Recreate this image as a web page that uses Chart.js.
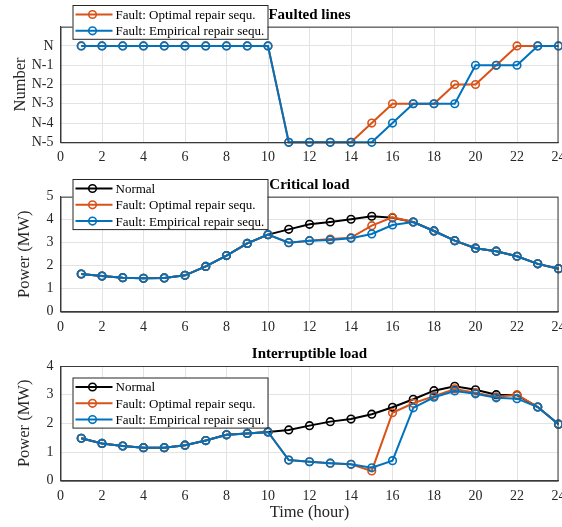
<!DOCTYPE html>
<html>
<head>
<meta charset="utf-8">
<script src="https://cdn.jsdelivr.net/npm/chart.js@4.4.1/dist/chart.umd.min.js"></script>
<style>
  body { margin: 0; background: #fff; overflow: hidden; }
  #wrap { position: relative; width: 562px; height: 527px; overflow: hidden; }
  canvas { position: absolute; left: 0; }
</style>
</head>
<body>
<div id="wrap">
  <canvas id="faulted-chart" width="600" height="170" style="top:0px"></canvas>
  <canvas id="critical-chart" width="600" height="170" style="top:170px"></canvas>
  <canvas id="inter-chart" width="600" height="187" style="top:340px"></canvas>
</div>
<script>
const hours = [1, 2, 3, 4, 5, 6, 7, 8, 9, 10, 11, 12, 13, 14, 15, 16, 17, 18, 19, 20, 21, 22, 23, 24];

// faulted lines: 0 = N, -1 = N-1 ...
const faultOptimal = [0, 0, 0, 0, 0, 0, 0, 0, 0, 0, -5, -5, -5, -5, -4, -3, -3, -3, -2, -2, -1, 0, 0, 0];
const faultEmpirical = [0, 0, 0, 0, 0, 0, 0, 0, 0, 0, -5, -5, -5, -5, -5, -4, -3, -3, -3, -1, -1, -1, 0, 0];

const criticalNormal = [1.64, 1.55, 1.48, 1.45, 1.47, 1.58, 1.97, 2.44, 2.97, 3.35, 3.58, 3.80, 3.90, 4.02, 4.15, 4.08, 3.90, 3.51, 3.09, 2.76, 2.63, 2.41, 2.08, 1.87];
const criticalOptimal = [1.64, 1.55, 1.48, 1.45, 1.47, 1.58, 1.97, 2.44, 2.97, 3.35, 3.00, 3.09, 3.16, 3.22, 3.74, 4.10, 3.90, 3.51, 3.09, 2.76, 2.63, 2.41, 2.08, 1.87];
const criticalEmpirical = [1.64, 1.55, 1.48, 1.45, 1.47, 1.58, 1.97, 2.44, 2.97, 3.35, 3.00, 3.09, 3.12, 3.19, 3.38, 3.77, 3.90, 3.51, 3.09, 2.76, 2.63, 2.41, 2.08, 1.87];

const interNormal = [1.48, 1.30, 1.21, 1.15, 1.15, 1.24, 1.40, 1.60, 1.65, 1.70, 1.77, 1.92, 2.06, 2.15, 2.32, 2.56, 2.84, 3.14, 3.29, 3.17, 3.00, 2.98, 2.57, 1.97];
const interOptimal = [1.48, 1.30, 1.21, 1.15, 1.15, 1.24, 1.40, 1.60, 1.65, 1.70, 0.72, 0.66, 0.61, 0.57, 0.34, 2.37, 2.70, 2.95, 3.20, 3.07, 2.92, 3.00, 2.57, 1.97];
const interEmpirical = [1.48, 1.30, 1.21, 1.15, 1.15, 1.24, 1.40, 1.60, 1.65, 1.70, 0.72, 0.66, 0.61, 0.57, 0.45, 0.70, 2.54, 2.91, 3.13, 3.03, 2.89, 2.86, 2.57, 1.97];

const xTicks = [0, 2, 4, 6, 8, 10, 12, 14, 16, 18, 20, 22, 24];

const colNormal = '#000000';
const colOptimal = '#D95319';
const colEmpirical = '#0072BD';
const axisColor = '#3a3a3a';
const gridColor = '#e3e3e3';

Chart.defaults.font.family = "'Liberation Serif', 'Times New Roman', serif";
Chart.defaults.color = '#262626';

function series(label, values, color, order) {
  return {
    label: label,
    data: hours.map((h, i) => ({x: h, y: values[i]})),
    borderColor: color,
    backgroundColor: color,
    borderWidth: 2,
    pointRadius: 3.8,
    pointBorderWidth: 1.6,
    pointBackgroundColor: 'rgba(255,255,255,0)',
    pointBorderColor: color,
    tension: 0,
    clip: 8,
    order: order
  };
}

// title, frame and legend box drawn like the matlab figure
const decor = {
  id: 'decor',
  afterDraw(chart, args, opts) {
    const ctx = chart.ctx;
    const a = chart.chartArea;
    ctx.save();
    ctx.strokeStyle = axisColor;
    ctx.lineWidth = 1;
    ctx.strokeRect(a.left + 0.5, a.top + 0.5, a.right - a.left - 1, a.bottom - a.top);

    ctx.fillStyle = '#000';
    ctx.font = "bold 15px 'Liberation Serif'";
    ctx.textAlign = 'center';
    ctx.textBaseline = 'middle';
    ctx.fillText(opts.title, (a.left + a.right) / 2, a.top - 11.5);

    const sets = chart.data.datasets;
    const rowH = 16.3;
    const left = 72.5, width = 195;
    const top = opts.legendTop;
    const height = 9 + rowH * (sets.length - 1) + 8.5;
    ctx.fillStyle = '#fff';
    ctx.fillRect(left, top, width, height);
    ctx.strokeStyle = '#262626';
    ctx.strokeRect(left + 0.5, top + 0.5, width, height);
    ctx.font = "13px 'Liberation Serif'";
    ctx.textAlign = 'left';
    sets.forEach((ds, i) => {
      const y = top + 9.5 + i * rowH;
      ctx.strokeStyle = ds.borderColor;
      ctx.lineWidth = 2;
      ctx.beginPath();
      ctx.moveTo(left + 3, y);
      ctx.lineTo(left + 40, y);
      ctx.stroke();
      ctx.lineWidth = 1.6;
      ctx.beginPath();
      ctx.arc(left + 20, y, 3.8, 0, Math.PI * 2);
      ctx.stroke();
      ctx.fillStyle = '#000';
      ctx.fillText(ds.label, left + 43, y + 1);
    });
    ctx.restore();
  }
};

function makeOptions(cfg) {
  return {
    responsive: false,
    animation: false,
    devicePixelRatio: 1,
    layout: {padding: {left: 0, right: 41.5, top: cfg.top, bottom: 0}},
    plugins: {
      legend: {display: false},
      tooltip: {enabled: false},
      decor: {title: cfg.title, legendTop: cfg.legendTop}
    },
    scales: {
      x: {
        type: 'linear',
        min: 0,
        max: 24,
        afterBuildTicks: (s) => { s.ticks = xTicks.map(v => ({value: v})); },
        ticks: {font: {size: 14}, padding: 7, maxRotation: 0, autoSkip: false},
        grid: {color: gridColor, drawTicks: false},
        border: {color: axisColor},
        title: {display: !!cfg.xTitle, text: cfg.xTitle, font: {size: 16.5}, padding: {top: 7}},
        afterFit: (s) => { s.height = cfg.xHeight; }
      },
      y: {
        min: cfg.yMin,
        max: cfg.yMax,
        ticks: {stepSize: 1, font: {size: 14}, padding: 7, autoSkip: false, callback: cfg.yLabel},
        grid: {color: gridColor, drawTicks: false},
        border: {color: axisColor},
        title: {display: true, text: cfg.yTitle, font: {size: 16.5}, padding: {top: cfg.yTitlePad, bottom: 0}},
        afterFit: (s) => { s.width = 60.5; }
      }
    }
  };
}

new Chart(document.getElementById('faulted-chart'), {
  type: 'line',
  data: {
    datasets: [
      series('Fault: Optimal repair sequ.', faultOptimal, colOptimal, 1),
      series('Fault: Empirical repair sequ.', faultEmpirical, colEmpirical, 0)
    ]
  },
  options: makeOptions({
    title: 'Faulted lines', legendTop: 5, top: 26.7, xHeight: 27.7,
    yMin: -5, yMax: 1, yTitle: 'Number', yTitlePad: 11,
    yLabel: (v) => v === 1 ? '' : (v === 0 ? 'N' : 'N' + v)
  }),
  plugins: [decor]
});

new Chart(document.getElementById('critical-chart'), {
  type: 'line',
  data: {
    datasets: [
      series('Normal', criticalNormal, colNormal, 2),
      series('Fault: Optimal repair sequ.', criticalOptimal, colOptimal, 1),
      series('Fault: Empirical repair sequ.', criticalEmpirical, colEmpirical, 0)
    ]
  },
  options: makeOptions({
    title: 'Critical load', legendTop: 9, top: 26.7, xHeight: 28.3,
    yMin: 0, yMax: 5, yTitle: 'Power (MW)', yTitlePad: 15,
    yLabel: (v) => v
  }),
  plugins: [decor]
});

new Chart(document.getElementById('inter-chart'), {
  type: 'line',
  data: {
    datasets: [
      series('Normal', interNormal, colNormal, 2),
      series('Fault: Optimal repair sequ.', interOptimal, colOptimal, 1),
      series('Fault: Empirical repair sequ.', interEmpirical, colEmpirical, 0)
    ]
  },
  options: makeOptions({
    title: 'Interruptible load', legendTop: 37.5, top: 26, xHeight: 46.3, xTitle: 'Time (hour)',
    yMin: 0, yMax: 4, yTitle: 'Power (MW)', yTitlePad: 15,
    yLabel: (v) => v
  }),
  plugins: [decor]
});
</script>
</body>
</html>
